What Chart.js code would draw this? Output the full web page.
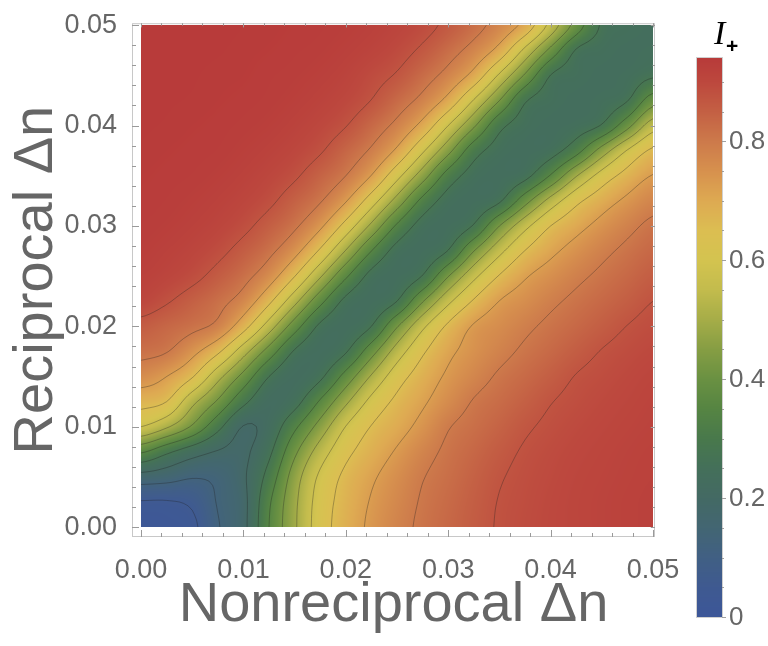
<!DOCTYPE html>
<html>
<head>
<meta charset="utf-8">
<script src="https://cdn.jsdelivr.net/npm/chart.js@4.4.1/dist/chart.umd.min.js"></script>
<style>
  html, body { margin: 0; padding: 0; background: #fff; }
  #wrap { width: 768px; height: 646px; }
</style>
</head>
<body>
<div id="wrap"><canvas id="chart" width="768" height="646"></canvas></div>
<script>
// ---------------------------------------------------------------
// Data: I+ sampled on a 21 x 21 grid (Δn step 0.0025)
// ---------------------------------------------------------------
const xValues = [0, 0.0025, 0.005, 0.0075, 0.01, 0.0125, 0.015, 0.0175, 0.02, 0.0225, 0.025,
                 0.0275, 0.03, 0.0325, 0.035, 0.0375, 0.04, 0.0425, 0.045, 0.0475, 0.05];
const yValues = xValues.slice();

// one row per reciprocal Δn, bottom (0) to top (0.05)
const r00 = [0.015, 0.02, 0.035, 0.12, 0.181, 0.35, 0.489, 0.614, 0.686, 0.738, 0.779, 0.811, 0.835, 0.858, 0.879, 0.891, 0.9, 0.907, 0.913, 0.918, 0.922];
const r01 = [0.045, 0.045, 0.063, 0.13, 0.181, 0.339, 0.484, 0.608, 0.679, 0.73, 0.77, 0.806, 0.83, 0.854, 0.877, 0.889, 0.899, 0.907, 0.913, 0.918, 0.922];
const r02 = [0.17, 0.155, 0.13, 0.14, 0.19, 0.303, 0.463, 0.589, 0.666, 0.715, 0.757, 0.797, 0.822, 0.847, 0.871, 0.886, 0.896, 0.905, 0.911, 0.916, 0.92];
const r03 = [0.359, 0.29, 0.233, 0.195, 0.188, 0.26, 0.409, 0.535, 0.63, 0.686, 0.732, 0.777, 0.812, 0.836, 0.86, 0.88, 0.892, 0.901, 0.908, 0.914, 0.918];
const r04 = [0.575, 0.51, 0.415, 0.297, 0.197, 0.228, 0.335, 0.455, 0.577, 0.653, 0.698, 0.745, 0.796, 0.821, 0.844, 0.868, 0.884, 0.895, 0.903, 0.91, 0.915];
const r05 = [0.676, 0.65, 0.522, 0.415, 0.294, 0.224, 0.251, 0.359, 0.485, 0.596, 0.666, 0.715, 0.762, 0.804, 0.827, 0.85, 0.873, 0.887, 0.897, 0.905, 0.912];
const r06 = [0.76, 0.725, 0.656, 0.525, 0.401, 0.275, 0.228, 0.262, 0.378, 0.508, 0.616, 0.684, 0.736, 0.774, 0.808, 0.831, 0.854, 0.877, 0.889, 0.899, 0.907];
const r07 = [0.818, 0.803, 0.746, 0.664, 0.531, 0.393, 0.268, 0.232, 0.269, 0.395, 0.534, 0.639, 0.709, 0.75, 0.782, 0.81, 0.833, 0.856, 0.877, 0.89, 0.899];
const r08 = [0.857, 0.837, 0.816, 0.782, 0.68, 0.538, 0.385, 0.262, 0.235, 0.275, 0.419, 0.559, 0.663, 0.731, 0.76, 0.788, 0.813, 0.834, 0.855, 0.876, 0.889];
const r09 = [0.903, 0.88, 0.851, 0.82, 0.77, 0.666, 0.523, 0.373, 0.258, 0.236, 0.275, 0.42, 0.557, 0.658, 0.726, 0.757, 0.788, 0.813, 0.834, 0.854, 0.875];
const r10 = [0.92, 0.908, 0.889, 0.858, 0.82, 0.759, 0.652, 0.509, 0.362, 0.254, 0.236, 0.278, 0.422, 0.555, 0.655, 0.718, 0.754, 0.786, 0.812, 0.834, 0.855];
const r11 = [0.928, 0.92, 0.908, 0.888, 0.856, 0.815, 0.748, 0.638, 0.495, 0.35, 0.251, 0.237, 0.278, 0.424, 0.553, 0.652, 0.709, 0.75, 0.785, 0.813, 0.835];
const r12 = [0.932, 0.928, 0.92, 0.908, 0.887, 0.853, 0.81, 0.738, 0.623, 0.483, 0.339, 0.249, 0.237, 0.281, 0.425, 0.552, 0.65, 0.702, 0.746, 0.783, 0.813];
const r13 = [0.9345, 0.932, 0.927, 0.919, 0.906, 0.885, 0.848, 0.805, 0.73, 0.611, 0.471, 0.329, 0.248, 0.236, 0.266, 0.396, 0.528, 0.631, 0.692, 0.739, 0.776];
const r14 = [0.936, 0.934, 0.932, 0.927, 0.918, 0.904, 0.882, 0.844, 0.8, 0.723, 0.599, 0.46, 0.318, 0.248, 0.235, 0.256, 0.356, 0.495, 0.605, 0.677, 0.728];
const r15 = [0.938, 0.936, 0.934, 0.932, 0.926, 0.917, 0.903, 0.88, 0.839, 0.791, 0.712, 0.587, 0.448, 0.307, 0.248, 0.235, 0.249, 0.322, 0.457, 0.58, 0.663];
const r16 = [0.939, 0.938, 0.936, 0.934, 0.931, 0.926, 0.916, 0.901, 0.877, 0.834, 0.783, 0.702, 0.575, 0.437, 0.296, 0.248, 0.235, 0.244, 0.28, 0.4, 0.54];
const r17 = [0.94, 0.939, 0.938, 0.936, 0.934, 0.931, 0.925, 0.915, 0.9, 0.874, 0.831, 0.781, 0.701, 0.57, 0.426, 0.283, 0.247, 0.235, 0.243, 0.272, 0.39];
const r18 = [0.94, 0.94, 0.939, 0.937, 0.936, 0.933, 0.93, 0.924, 0.913, 0.893, 0.87, 0.828, 0.778, 0.701, 0.564, 0.416, 0.2735, 0.246, 0.235, 0.241, 0.266];
const r19 = [0.94, 0.94, 0.94, 0.939, 0.937, 0.9355, 0.933, 0.93, 0.923, 0.912, 0.8945, 0.866, 0.825, 0.776, 0.7, 0.557, 0.405, 0.27, 0.245, 0.235, 0.24];
const r20 = [0.94, 0.94, 0.94, 0.94, 0.9385, 0.937, 0.935, 0.933, 0.929, 0.922, 0.91, 0.892, 0.862, 0.822, 0.773, 0.7, 0.55, 0.394, 0.267, 0.245, 0.235];

const intensityRows = [r00, r01, r02, r03, r04, r05, r06, r07, r08, r09, r10,
                       r11, r12, r13, r14, r15, r16, r17, r18, r19, r20];

const contourLevels = [0.05, 0.125, 0.2, 0.275, 0.35, 0.425, 0.5, 0.575, 0.65, 0.725, 0.8, 0.875];

const axisTickValues = [0, 0.01, 0.02, 0.03, 0.04, 0.05];
const axisTickLabels = ['0.00', '0.01', '0.02', '0.03', '0.04', '0.05'];
const barTickValues = [0, 0.2, 0.4, 0.6, 0.8];
const barTickLabels = ['0', '0.2', '0.4', '0.6', '0.8'];
const barRange = [0, 0.94];

// ---------------------------------------------------------------
// Style
// ---------------------------------------------------------------
const FONT = '"Liberation Sans", Arial, Helvetica, sans-serif';
const TEXT_GREY = '#666666';

// density gradient (value -> rgb)
const GRADIENT = [
    [0.00, [61, 87, 153]],
    [0.05, [63, 90, 145]],
    [0.10, [65, 96, 132]],
    [0.15, [67, 102, 115]],
    [0.20, [68, 106, 100]],
    [0.25, [68, 112, 90]],
    [0.30, [73, 121, 76]],
    [0.35, [86, 133, 67]],
    [0.40, [106, 145, 66]],
    [0.45, [134, 158, 68]],
    [0.50, [166, 173, 72]],
    [0.55, [195, 188, 77]],
    [0.60, [212, 196, 80]],
    [0.65, [220, 190, 82]],
    [0.70, [222, 170, 82]],
    [0.75, [215, 145, 78]],
    [0.80, [205, 122, 75]],
    [0.85, [196, 96, 68]],
    [0.90, [189, 72, 62]],
    [0.94, [184, 59, 58]]
];

function colorFor(v) {
    if (v <= GRADIENT[0][0]) return GRADIENT[0][1];
    for (let k = 1; k < GRADIENT.length; k++) {
        if (v <= GRADIENT[k][0]) {
            const [v0, c0] = GRADIENT[k - 1];
            const [v1, c1] = GRADIENT[k];
            const t = (v - v0) / (v1 - v0);
            return [c0[0] + (c1[0] - c0[0]) * t, c0[1] + (c1[1] - c0[1]) * t, c0[2] + (c1[2] - c0[2]) * t];
        }
    }
    return GRADIENT[GRADIENT.length - 1][1];
}

// smooth (Catmull-Rom) lookup in grid units
function cr(p0, p1, p2, p3, t) {
    return p1 + 0.5 * t * (p2 - p0 + t * (2 * p0 - 5 * p1 + 4 * p2 - p3 + t * (3 * (p1 - p2) + p3 - p0)));
}
function node(i, j) {
    const n = xValues.length - 1;
    i = Math.max(0, Math.min(n, i));
    j = Math.max(0, Math.min(n, j));
    return intensityRows[j][i];
}
function sampleField(gx, gy) {
    const n = xValues.length - 1;
    const i = Math.min(n - 1, Math.max(0, Math.floor(gx)));
    const j = Math.min(n - 1, Math.max(0, Math.floor(gy)));
    const tx = gx - i, ty = gy - j;
    const rows = [];
    for (let m = -1; m <= 2; m++) {
        rows.push(cr(node(i - 1, j + m), node(i, j + m), node(i + 1, j + m), node(i + 2, j + m), tx));
    }
    return cr(rows[0], rows[1], rows[2], rows[3], ty);
}

// ---------------------------------------------------------------
// Plugins
// ---------------------------------------------------------------
const densityPlugin = {
    id: 'density',
    beforeDatasetsDraw(chart) {
        const { ctx, scales: { x, y } } = chart;
        const step = xValues[1] - xValues[0];
        const left = Math.round(x.getPixelForValue(xValues[0]));
        const right = Math.round(x.getPixelForValue(xValues[xValues.length - 1]));
        const top = Math.round(y.getPixelForValue(yValues[yValues.length - 1]));
        const bottom = Math.round(y.getPixelForValue(yValues[0]));
        const w = right - left, h = bottom - top;

        const img = ctx.createImageData(w, h);
        for (let py = 0; py < h; py++) {
            const gy = (y.getValueForPixel(top + py + 0.5) - yValues[0]) / step;
            for (let px = 0; px < w; px++) {
                const gx = (x.getValueForPixel(left + px + 0.5) - xValues[0]) / step;
                const c = colorFor(sampleField(gx, gy));
                const o = (py * w + px) * 4;
                img.data[o] = c[0];
                img.data[o + 1] = c[1];
                img.data[o + 2] = c[2];
                img.data[o + 3] = 255;
            }
        }
        ctx.putImageData(img, left, top);

        // contour lines on a finer resampling of the grid
        const S = 6;
        const n = xValues.length - 1;
        const M = n * S + 1;
        const f = [];
        for (let j = 0; j < M; j++) {
            const row = new Float64Array(M);
            for (let i = 0; i < M; i++) row[i] = sampleField(i / S, j / S);
            f.push(row);
        }
        const px = gi => x.getPixelForValue(xValues[0] + gi / S * step);
        const py = gj => y.getPixelForValue(yValues[0] + gj / S * step);

        ctx.save();
        ctx.beginPath();
        ctx.rect(left, top, w, h);
        ctx.clip();
        ctx.strokeStyle = 'rgba(30, 30, 30, 0.32)';
        ctx.lineWidth = 1;
        contourLevels.forEach(lv => {
            ctx.beginPath();
            for (let j = 0; j < M - 1; j++) {
                for (let i = 0; i < M - 1; i++) {
                    const v0 = f[j][i], v1 = f[j][i + 1], v2 = f[j + 1][i + 1], v3 = f[j + 1][i];
                    const pts = [];
                    if ((v0 < lv) !== (v1 < lv)) pts.push([i + (lv - v0) / (v1 - v0), j]);
                    if ((v1 < lv) !== (v2 < lv)) pts.push([i + 1, j + (lv - v1) / (v2 - v1)]);
                    if ((v3 < lv) !== (v2 < lv)) pts.push([i + (lv - v3) / (v2 - v3), j + 1]);
                    if ((v0 < lv) !== (v3 < lv)) pts.push([i, j + (lv - v0) / (v3 - v0)]);
                    for (let k = 0; k + 1 < pts.length; k += 2) {
                        ctx.moveTo(px(pts[k][0]), py(pts[k][1]));
                        ctx.lineTo(px(pts[k + 1][0]), py(pts[k + 1][1]));
                    }
                }
            }
            ctx.stroke();
        });
        ctx.restore();
    }
};

const framePlugin = {
    id: 'frame',
    afterDraw(chart) {
        const { ctx, chartArea: a, scales: { x, y } } = chart;
        ctx.save();
        ctx.strokeStyle = '#c8c8c8';
        ctx.lineWidth = 1;
        ctx.strokeRect(a.left + 0.5, a.top + 0.5, a.right - a.left - 1, a.bottom - a.top - 1);

        ctx.strokeStyle = '#9a9a9a';
        ctx.beginPath();
        for (let k = 0; k < axisTickValues.length; k++) {
            for (let s = 0; s < 5; s++) {
                if (k === axisTickValues.length - 1 && s > 0) break;
                const v = axisTickValues[k] + s * 0.002;
                const len = s === 0 ? 7 : 4;
                const X = Math.round(x.getPixelForValue(v)) + 0.5;
                ctx.moveTo(X, a.bottom); ctx.lineTo(X, a.bottom - len);
                ctx.moveTo(X, a.top); ctx.lineTo(X, a.top + len * 0.6);
                const Y = Math.round(y.getPixelForValue(v)) + 0.5;
                ctx.moveTo(a.left, Y); ctx.lineTo(a.left + len, Y);
                ctx.moveTo(a.right, Y); ctx.lineTo(a.right - len * 0.6, Y);
            }
        }
        ctx.stroke();

        // colour bar
        const bx = 697, bw = 25, bTop = 58, bBot = 617;
        const toBar = v => bBot - (v - barRange[0]) / (barRange[1] - barRange[0]) * (bBot - bTop);
        for (let p = bTop; p < bBot; p++) {
            const v = barRange[0] + (bBot - p - 0.5) / (bBot - bTop) * (barRange[1] - barRange[0]);
            const c = colorFor(v);
            ctx.fillStyle = `rgb(${c[0] | 0}, ${c[1] | 0}, ${c[2] | 0})`;
            ctx.fillRect(bx, p, bw, 1);
        }
        ctx.strokeStyle = '#d0d0d0';
        ctx.strokeRect(bx - 0.5, bTop - 0.5, bw + 1, bBot - bTop + 1);

        ctx.strokeStyle = 'rgba(150, 150, 150, 0.9)';
        ctx.beginPath();
        for (let v = 0; v <= barRange[1] + 1e-9; v += 0.05) {
            const Y = Math.round(toBar(v)) + 0.5;
            const major = Math.abs(v / 0.2 - Math.round(v / 0.2)) < 1e-6;
            ctx.moveTo(bx + bw, Y);
            ctx.lineTo(bx + bw + (major ? 4 : 2), Y);
        }
        ctx.stroke();

        ctx.fillStyle = TEXT_GREY;
        ctx.font = `26px ${FONT}`;
        ctx.textAlign = 'left';
        ctx.textBaseline = 'middle';
        barTickValues.forEach((v, i) => {
            ctx.fillText(barTickLabels[i], bx + bw + 7, toBar(v) + 1);
        });

        // bar title: I with subscript +
        ctx.fillStyle = '#000';
        ctx.textBaseline = 'alphabetic';
        ctx.font = `italic 34px "Liberation Serif", "Times New Roman", serif`;
        ctx.fillText('I', 714, 44);
        ctx.font = `bold 21px ${FONT}`;
        ctx.fillText('+', 726, 53);
        ctx.restore();
    }
};

// ---------------------------------------------------------------
// Chart
// ---------------------------------------------------------------
new Chart(document.getElementById('chart'), {
    type: 'scatter',
    data: { datasets: [] },
    options: {
        responsive: false,
        animation: false,
        layout: { padding: { top: 16, right: 113, bottom: 0, left: 0 } },
        plugins: {
            legend: { display: false },
            tooltip: { enabled: false }
        },
        scales: {
            x: {
                type: 'linear',
                min: -0.000881,
                max: 0.050196,
                grid: { display: false },
                border: { display: false },
                afterBuildTicks: s => { s.ticks = axisTickValues.map(v => ({ value: v })); },
                afterFit: s => { s.height = 109; },
                ticks: {
                    autoSkip: false,
                    maxRotation: 0,
                    padding: 9,
                    color: TEXT_GREY,
                    font: { family: FONT, size: 27 },
                    callback: (v, i) => axisTickLabels[i]
                },
                title: {
                    display: true,
                    text: 'Nonreciprocal Δn',
                    color: TEXT_GREY,
                    font: { family: FONT, size: 56 },
                    padding: { top: 0, bottom: 7 }
                }
            },
            y: {
                type: 'linear',
                min: -0.000982,
                max: 0.050197,
                grid: { display: false },
                border: { display: false },
                afterBuildTicks: s => { s.ticks = axisTickValues.map(v => ({ value: v })); },
                afterFit: s => { s.width = 132; },
                ticks: {
                    autoSkip: false,
                    padding: 7,
                    color: TEXT_GREY,
                    font: { family: FONT, size: 27 },
                    callback: (v, i) => axisTickLabels[i]
                },
                title: {
                    display: true,
                    text: 'Reciprocal Δn',
                    color: TEXT_GREY,
                    font: { family: FONT, size: 56 },
                    padding: { top: 3, bottom: 0 }
                }
            }
        }
    },
    plugins: [densityPlugin, framePlugin]
});
</script>
</body>
</html>
